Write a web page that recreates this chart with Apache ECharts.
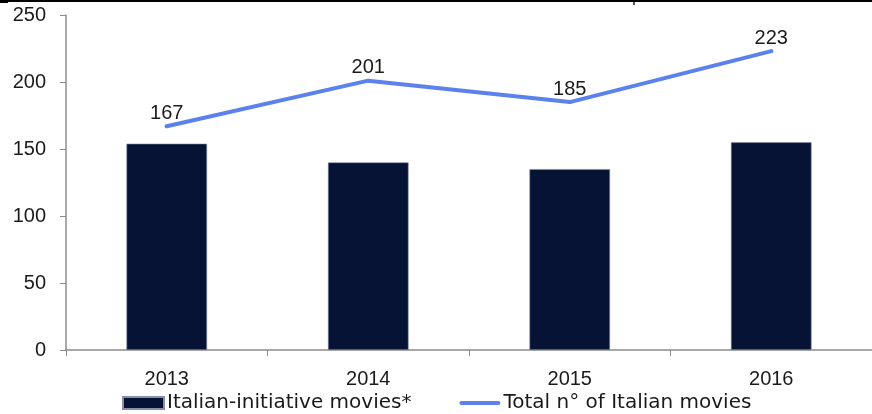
<!DOCTYPE html>
<html>
<head>
<meta charset="utf-8">
<script src="https://cdn.jsdelivr.net/npm/echarts@6/dist/echarts.min.js"></script>
<style>
  html, body { margin: 0; padding: 0; background: #fff; }
  #chart { width: 872px; height: 414px; }
</style>
</head>
<body>
<div id="chart"></div>
<script>
const years = ['2013', '2014', '2015', '2016'];
const italianInitiative = [154, 140, 135, 155];
const totalItalian = [167, 201, 185, 223];
const yTicks = { min: 0, max: 250, interval: 50 };

const NUM_FONT = '"Liberation Sans", Arial, sans-serif';
const TEXT_FONT = '"DejaVu Sans", sans-serif';
const TEXT = '#1a1a1a';
const LINE_COLOR = '#5b82ec';

const chart = echarts.init(document.getElementById('chart'), null, { renderer: 'canvas' });
chart.setOption({
  animation: false,
  backgroundColor: '#fff',
  grid: { left: 66, top: 15, width: 809, height: 335, containLabel: false },
  legend: {
    top: 393,
    left: 122,
    padding: 0,
    itemGap: 48,
    itemWidth: 41,
    itemHeight: 12,
    textStyle: { fontFamily: TEXT_FONT, fontSize: 20, color: TEXT, padding: [0, 0, 0, -2] },
    data: [
      { name: 'Italian-initiative movies*', icon: 'rect' },
      {
        name: 'Total n° of Italian movies',
        icon: 'path://M2,0h36a2,2 0 0 1 0,4h-36a2,2 0 0 1 0,-4z',
        itemStyle: { color: LINE_COLOR, opacity: 1 }
      }
    ]
  },
  xAxis: {
    type: 'category',
    data: years,
    axisLine: { lineStyle: { color: '#8c8c8c', width: 1.5 } },
    axisTick: { show: true, length: 6, alignWithLabel: false, lineStyle: { color: '#8c8c8c' } },
    axisLabel: { fontFamily: NUM_FONT, fontSize: 20, color: TEXT, margin: 19 }
  },
  yAxis: {
    type: 'value',
    min: yTicks.min,
    max: yTicks.max,
    interval: yTicks.interval,
    splitLine: { show: false },
    axisLine: { show: true, lineStyle: { color: '#8c8c8c', width: 1.5 } },
    axisTick: { show: true, length: 6, lineStyle: { color: '#8c8c8c' } },
    axisLabel: { fontFamily: NUM_FONT, fontSize: 20, color: TEXT, margin: 20 }
  },
  series: [
    {
      name: 'Italian-initiative movies*',
      type: 'bar',
      data: italianInitiative,
      barWidth: '40%',
      itemStyle: { color: '#061335', borderColor: '#8890a8', borderWidth: 0.6 }
    },
    {
      name: 'Total n° of Italian movies',
      type: 'line',
      data: totalItalian,
      symbol: 'circle',
      symbolSize: 4,
      showSymbol: true,
      lineStyle: { color: LINE_COLOR, width: 4, cap: 'round' },
      itemStyle: { color: LINE_COLOR },
      label: {
        show: true,
        position: 'top',
        distance: 1,
        fontFamily: NUM_FONT,
        fontSize: 20,
        color: TEXT
      }
    }
  ],
  graphic: [
    { type: 'line', shape: { x1: 0, y1: 1, x2: 872, y2: 1 }, style: { stroke: '#000', lineWidth: 2 } },
    { type: 'rect', shape: { x: 0, y: 0, width: 8, height: 3 }, style: { fill: '#000' } },
    { type: 'rect', shape: { x: 633, y: 2, width: 2, height: 3 }, style: { fill: '#555' } }
  ]
});
</script>
</body>
</html>
